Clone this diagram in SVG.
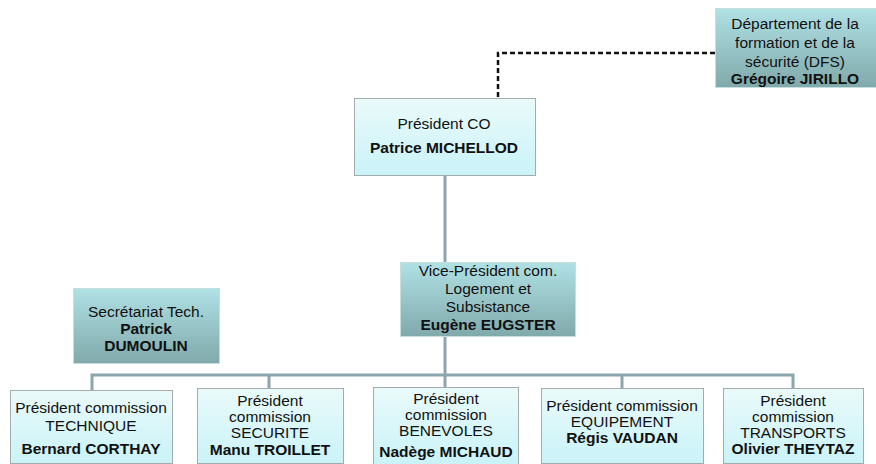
<svg xmlns="http://www.w3.org/2000/svg" width="876" height="464" viewBox="0 0 876 464">
<defs>
<linearGradient id="light" x1="0" y1="0" x2="0" y2="1">
<stop offset="0" stop-color="#eafafa"/>
<stop offset="1" stop-color="#c9f3f8"/>
</linearGradient>
<linearGradient id="dark" x1="0" y1="0" x2="0" y2="1">
<stop offset="0" stop-color="#b0e1e5"/>
<stop offset="1" stop-color="#80a9ab"/>
</linearGradient>
</defs>
<style>
text{font-family:"Liberation Sans",Arial,sans-serif;font-size:15.5px;fill:#111;text-anchor:middle}
.b{font-weight:bold}
.lb{fill:url(#light);stroke:#a3abab;stroke-width:1}
.db{fill:url(#dark);stroke:#c6dede;stroke-width:1}
.c{fill:none;stroke:#8ba6ac;stroke-width:3}
.d{fill:none;stroke:#111;stroke-width:2.5;stroke-dasharray:5,3}
</style>
<rect width="876" height="464" fill="#fff"/>
<g id="connectors">
<path class="c" d="M445 175V262"/>
<path class="c" d="M445 336V388"/>
<path class="c" d="M92 390V375H793V388"/>
<path class="c" d="M269 375V388"/>
<path class="c" d="M622 375V388"/>
<path class="d" d="M498 129V53H715"/>
</g>
<g id="dfs">
<rect class="db" x="715.5" y="8.5" width="161" height="79"/>
<text x="795" y="29">Département de la</text>
<text x="795" y="48">formation et de la</text>
<text x="795" y="67">sécurité (DFS)</text>
<text x="795" y="84" class="b">Grégoire JIRILLO</text>
</g>
<g id="president">
<rect class="lb" x="354.5" y="98.5" width="181" height="77"/>
<text x="444" y="129">Président CO</text>
<text x="444" y="153" class="b">Patrice MICHELLOD</text>
</g>
<g id="vice">
<rect class="db" x="400.5" y="262.5" width="175" height="74"/>
<text x="488" y="276">Vice-Président com.</text>
<text x="488" y="294">Logement et</text>
<text x="488" y="312">Subsistance</text>
<text x="488" y="330" class="b">Eugène EUGSTER</text>
</g>
<g id="secretariat">
<rect class="db" x="73.5" y="288.5" width="146" height="75"/>
<text x="146" y="317">Secrétariat Tech.</text>
<text x="146" y="334" class="b">Patrick</text>
<text x="146" y="351" class="b">DUMOULIN</text>
</g>
<g id="technique">
<rect class="lb" x="10.5" y="390.5" width="162" height="73"/>
<text x="91" y="413">Président commission</text>
<text x="91" y="431">TECHNIQUE</text>
<text x="91" y="454" class="b">Bernard CORTHAY</text>
</g>
<g id="securite">
<rect class="lb" x="197.5" y="388.5" width="146" height="75"/>
<text x="270" y="406">Président</text>
<text x="270" y="422">commission</text>
<text x="270" y="438">SECURITE</text>
<text x="270" y="455" class="b">Manu TROILLET</text>
</g>
<g id="benevoles">
<rect class="lb" x="373.5" y="387.5" width="145" height="77"/>
<text x="446" y="404">Président</text>
<text x="446" y="420">commission</text>
<text x="446" y="436">BENEVOLES</text>
<text x="446" y="457" class="b">Nadège MICHAUD</text>
</g>
<g id="equipement">
<rect class="lb" x="541.5" y="388.5" width="162" height="75"/>
<text x="622" y="411">Président commission</text>
<text x="622" y="427">EQUIPEMENT</text>
<text x="622" y="443" class="b">Régis VAUDAN</text>
</g>
<g id="transports">
<rect class="lb" x="723.5" y="388.5" width="140" height="75"/>
<text x="793" y="406">Président</text>
<text x="793" y="422">commission</text>
<text x="793" y="438">TRANSPORTS</text>
<text x="793" y="454" class="b">Olivier THEYTAZ</text>
</g>
</svg>
